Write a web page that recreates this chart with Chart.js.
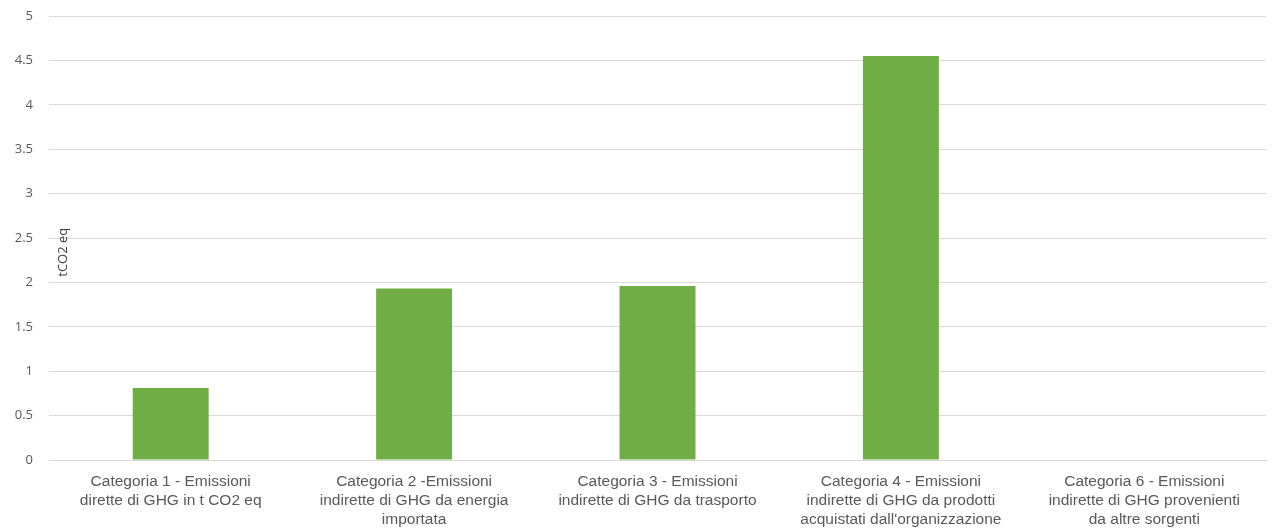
<!DOCTYPE html>
<html>
<head>
<meta charset="utf-8">
<script src="https://cdn.jsdelivr.net/npm/chart.js@4.4.1/dist/chart.umd.min.js"></script>
<style>
  html, body { margin: 0; padding: 0; background: #ffffff; }
  #wrap { width: 1275px; height: 531px; }
</style>
</head>
<body>
<div id="wrap"><canvas id="c" width="1275" height="531"></canvas></div>
<script>
// Categories (each label split into its displayed lines)
const categories = [
  ["Categoria 1 - Emissioni", "dirette di GHG in t CO2 eq"],
  ["Categoria 2 -Emissioni", "indirette di GHG da energia", "importata"],
  ["Categoria 3 - Emissioni", "indirette di GHG da trasporto"],
  ["Categoria 4 - Emissioni", "indirette di GHG da prodotti", "acquistati dall'organizzazione"],
  ["Categoria 6 - Emissioni", "indirette di GHG provenienti", "da altre sorgenti"]
];
// Emissions per category, tCO2 eq
const emissions = [0.81, 1.93, 1.96, 4.55, 0];
const yAxisTitle = "tCO2 eq";

// Writes the unit label vertically just inside the plot area
const unitLabel = {
  id: "unitLabel",
  afterDatasetsDraw(chart) {
    const { ctx, chartArea, scales } = chart;
    ctx.save();
    ctx.translate(chartArea.left + 14, scales.y.getPixelForValue(2.34));
    ctx.rotate(-Math.PI / 2);
    ctx.font = "13px 'Open Sans', sans-serif";
    ctx.fillStyle = "#404040";
    ctx.textAlign = "center";
    ctx.textBaseline = "middle";
    ctx.fillText(yAxisTitle, 0, 0);
    ctx.restore();
  }
};

new Chart(document.getElementById("c"), {
  type: "bar",
  data: {
    labels: categories,
    datasets: [{
      data: emissions,
      backgroundColor: "#70ad47",
      borderWidth: 0,
      barPercentage: 0.312,
      categoryPercentage: 1
    }]
  },
  options: {
    responsive: false,
    animation: false,
    layout: { padding: { top: 16, right: 9, left: 0, bottom: 0 } },
    plugins: { legend: { display: false }, tooltip: { enabled: false } },
    scales: {
      x: {
        grid: { display: false, drawTicks: false },
        border: { display: true, color: "#d9d9d9", width: 1 },
        ticks: {
          color: "#595959",
          font: { family: "'Liberation Sans', Arial, sans-serif", size: 15.5, lineHeight: 1.23 },
          padding: 12,
          maxRotation: 0,
          autoSkip: false
        },
        afterFit(scale) { scale.height = 71; }
      },
      y: {
        min: 0,
        max: 5,
        grid: { color: "#d9d9d9", lineWidth: 1, drawTicks: false },
        border: { display: false },
        ticks: {
          stepSize: 0.5,
          color: "#595959",
          font: { family: "'Open Sans', sans-serif", size: 13 },
          padding: 16,
          callback: (v) => String(v)
        },
        afterFit(scale) {
          scale.width = 49;
          // keep the horizontal label gap from pushing the plot top down
          scale.paddingTop = 8;
          scale.paddingBottom = 8;
        }
      }
    }
  },
  plugins: [unitLabel]
});
</script>
</body>
</html>
